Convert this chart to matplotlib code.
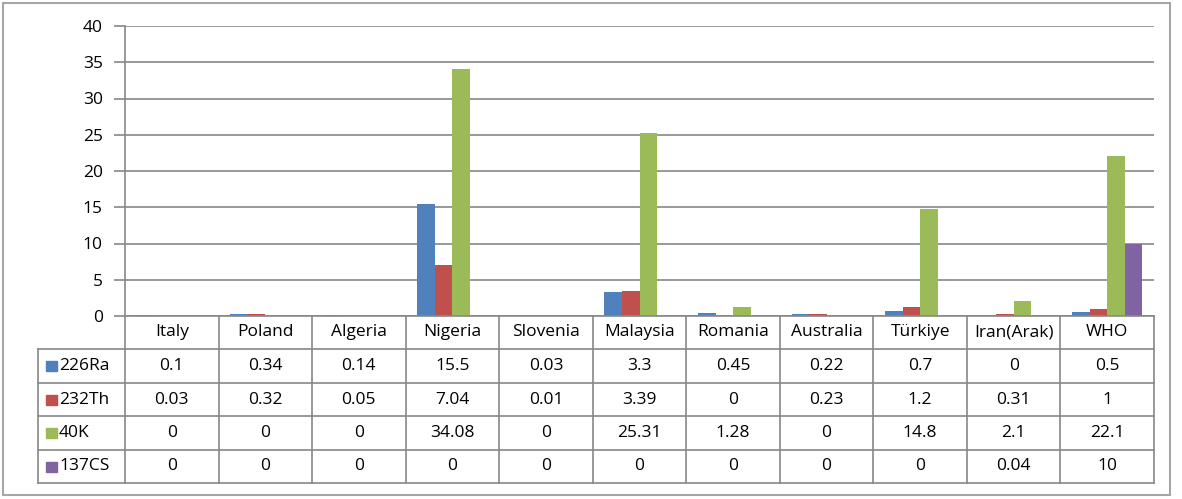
import numpy as np
import matplotlib.pyplot as plt
from matplotlib.transforms import blended_transform_factory
from matplotlib.patches import Rectangle

plt.rcParams['font.family'] = ['Open Sans', 'DejaVu Sans']

countries = ['Italy', 'Poland', 'Algeria', 'Nigeria', 'Slovenia', 'Malaysia',
             'Romania', 'Australia', 'Türkiye', 'Iran(Arak)', 'WHO']
series = ['226Ra', '232Th', '40K', '137CS']
ra226 = [0.1, 0.34, 0.14, 15.5, 0.03, 3.3, 0.45, 0.22, 0.7, 0, 0.5]
th232 = [0.03, 0.32, 0.05, 7.04, 0.01, 3.39, 0, 0.23, 1.2, 0.31, 1]
k40 = [0, 0, 0, 34.08, 0, 25.31, 1.28, 0, 14.8, 2.1, 22.1]
cs137 = [0, 0, 0, 0, 0, 0, 0, 0, 0, 0.04, 10]
values = [ra226, th232, k40, cs137]
colors = ['#4F81BD', '#C0504D', '#9BBB59', '#8064A2']

W, H = 1182, 499
fig = plt.figure(figsize=(W / 100, H / 100), dpi=100)
L, R, T, B = 125, 1154, 26, 316
ax = fig.add_axes([L / W, 1 - B / H, (R - L) / W, (B - T) / H])

grid_c = '#888888'
x = np.arange(len(countries))
bw = 0.1875
for i, (name, vals, c) in enumerate(zip(series, values, colors)):
    ax.bar(x + (i - 1.5) * bw, vals, width=bw, color=c, zorder=3)

ax.set_xlim(-0.5, len(countries) - 0.5)
ax.set_ylim(0, 40)
ax.set_yticks(range(0, 41, 5))
ax.yaxis.grid(True, color=grid_c, linewidth=1.2)
ax.set_axisbelow(True)
ax.set_xticks([])
for s in ['top', 'right', 'bottom']:
    ax.spines[s].set_visible(False)
ax.spines['left'].set_color(grid_c)
ax.spines['left'].set_linewidth(1.2)
fs = 12.5
ax.tick_params(axis='y', length=8, color=grid_c, width=1.2, labelsize=fs,
               pad=8, labelcolor='black')

# data table below the axis
ph = B - T
def ay(py):
    return (B - py) / ph

def axx(px):
    return (px - L) / (R - L)

tr = blended_transform_factory(ax.transData, ax.transAxes)
line_kw = dict(color=grid_c, linewidth=1.2, clip_on=False, zorder=4)
rows = [316, 349, 383, 416, 450, 483]

# horizontal lines
ax.plot([0, 1], [0, 0], transform=ax.transAxes, **line_kw)
for r in rows[1:]:
    ax.plot([axx(38), 1], [ay(r), ay(r)], transform=ax.transAxes, **line_kw)
# vertical lines
for k in range(len(countries) + 1):
    ax.plot([k - 0.5, k - 0.5], [ay(316), ay(483)], transform=tr, **line_kw)
ax.plot([axx(38), axx(38)], [ay(349), ay(483)], transform=ax.transAxes, **line_kw)

for k, c in enumerate(countries):
    ax.text(k, ay((rows[0] + rows[1]) / 2), c, transform=tr, ha='center',
            va='center', fontsize=fs, clip_on=False)
for i, (name, vals, col) in enumerate(zip(series, values, colors)):
    yc = ay((rows[i + 1] + rows[i + 2]) / 2)
    ax.add_patch(Rectangle((axx(46), yc - 5 / ph), 11 / (R - L), 10 / ph,
                           transform=ax.transAxes, color=col, clip_on=False))
    ax.text(axx(59), yc, name, transform=ax.transAxes, ha='left', va='center',
            fontsize=fs, clip_on=False)
    for k, v in enumerate(vals):
        ax.text(k, yc, f'{v:g}', transform=tr, ha='center', va='center',
                fontsize=fs, clip_on=False)

# outer chart frame
fig.patches.append(Rectangle((3 / W, 1 - 495 / H), 1167 / W, 492 / H,
                             transform=fig.transFigure, fill=False,
                             edgecolor='#A6A6A6', linewidth=1.5))

fig.savefig('out.png', dpi=100)
